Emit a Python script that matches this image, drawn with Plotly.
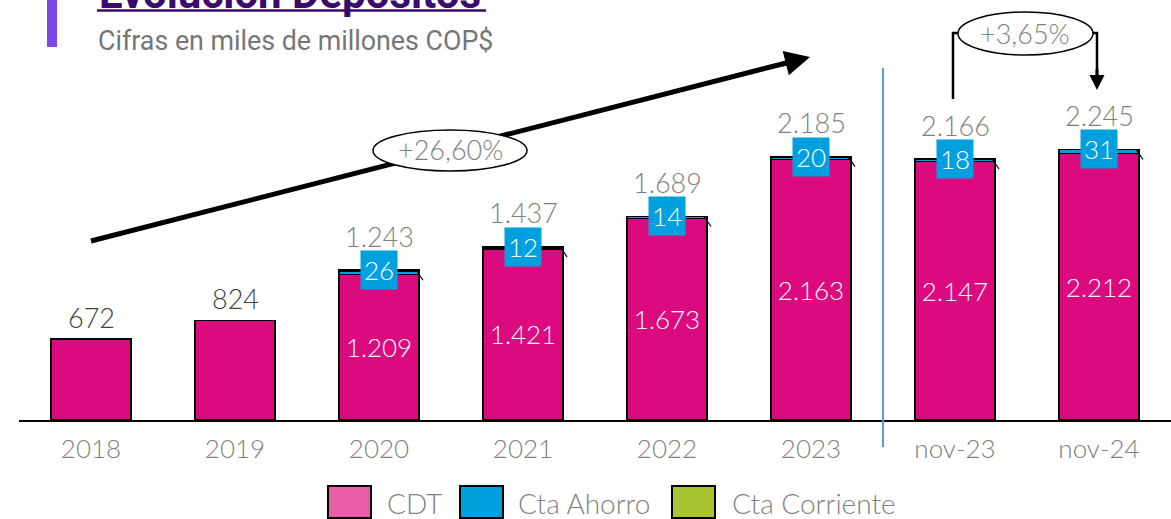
import plotly.graph_objects as go

categories = ["2018", "2019", "2020", "2021", "2022", "2023", "nov-23", "nov-24"]
cdt = [672, 824, 1209, 1421, 1673, 2163, 2147, 2212]
cta_ahorro = [None, None, 26, 12, 14, 20, 18, 31]
cta_corriente = [None, None, 8, 4, 2, 2, 1, 2]
totals = [672, 824, 1243, 1437, 1689, 2185, 2166, 2245]
growth_total = "+26,60%"
growth_nov = "+3,65%"


def fmt(v):
    return f"{v:,}".replace(",", ".")


W, H = 1171, 519
ML, MR, MT, MB = 19, 0, 0, 99
PW, PH = W - ML - MR, H - MT - MB


def px(x):
    return (x - ML) / PW


def py(y):
    return (H - MB - y) / PH


LIGHT = "Lato Light, Lato, sans-serif"
PINK = "#DC0A7F"
BLUE = "#00A0DF"
GREEN = "#A8C430"
GREY = "#7F7F7F"

fig = go.Figure()
cdt_text = [fmt(v) if a is not None else "" for v, a in zip(cdt, cta_ahorro)]
fig.add_bar(x=categories, y=cdt, name="CDT", marker=dict(color=PINK, line=dict(color="black", width=1.5)),
            text=cdt_text, textposition="inside", insidetextanchor="middle", textangle=0,
            textfont=dict(family=LIGHT, size=26, color="white"), constraintext="none")
fig.add_bar(x=categories, y=cta_ahorro, name="Cta Ahorro", marker=dict(color=BLUE, line=dict(color="black", width=1.5)))
fig.add_bar(x=categories, y=cta_corriente, name="Cta Corriente", marker=dict(color=GREEN, line=dict(color="black", width=1.5)))

annotations = []
shapes = []
for i, (t, a) in enumerate(zip(totals, cta_ahorro)):
    if a is None:
        annotations.append(dict(x=i, y=t, text=fmt(t), showarrow=False, xanchor="center", yanchor="middle", yshift=22,
                                font=dict(family=LIGHT, size=27, color="#404040")))
    else:
        annotations.append(dict(x=i, y=t, text=fmt(t), showarrow=False, xanchor="center", yanchor="middle", yshift=34,
                                font=dict(family=LIGHT, size=27, color=GREY)))
        annotations.append(dict(x=i, y=t, text=str(a), showarrow=False, xanchor="center", yanchor="middle",
                                bgcolor=BLUE, borderpad=3,
                                font=dict(family=LIGHT, size=26, color="white")))
        # small leader tick at the top-right corner
        shapes.append(dict(type="line", xref="x", yref="y", xsizemode="pixel", ysizemode="pixel",
                           xanchor=i + 0.278, yanchor=t, x0=-3, x1=4, y0=0, y1=-10,
                           line=dict(color="black", width=1.2)))

# title & subtitle
annotations.append(dict(xref="paper", yref="paper", x=px(97), y=py(20), xanchor="left", yanchor="bottom",
                        text="<b>Evolución Depósitos</b>", showarrow=False,
                        font=dict(family="Roboto", size=42, color="#3B0A6B")))
annotations.append(dict(xref="paper", yref="paper", x=px(96), y=py(41), xanchor="left", yanchor="middle",
                        text="Cifras en miles de millones COP$", showarrow=False,
                        font=dict(family="Roboto", size=26.8, color="#767676")))
# growth labels
annotations.append(dict(xref="paper", yref="paper", x=px(450), y=py(150), xanchor="center", yanchor="middle",
                        text=growth_total, showarrow=False, font=dict(family=LIGHT, size=27, color=GREY)))
annotations.append(dict(xref="paper", yref="paper", x=px(1025), y=py(33), xanchor="center", yanchor="middle",
                        text=growth_nov, showarrow=False, font=dict(family=LIGHT, size=27, color=GREY)))
# arrowheads
annotations.append(dict(xref="paper", yref="paper", x=px(810), y=py(57), ax=-29, ay=7.4, text="",
                        showarrow=True, arrowhead=2, arrowsize=1, arrowwidth=5, arrowcolor="black"))
annotations.append(dict(xref="paper", yref="paper", x=px(1097), y=py(90), ax=0, ay=-22, text="",
                        showarrow=True, arrowhead=2, arrowsize=1, arrowwidth=3, arrowcolor="black"))

# legend (manual)
legend_items = [("CDT", "#E85DA8", 328, 385), ("Cta Ahorro", BLUE, 460, 516), ("Cta Corriente", GREEN, 672, 730)]
for name, col, sx, tx in legend_items:
    shapes.append(dict(type="rect", xref="paper", yref="paper", x0=px(sx), x1=px(sx + 43), y0=py(486), y1=py(518),
                       fillcolor=col, line=dict(color="black", width=2)))
    annotations.append(dict(xref="paper", yref="paper", x=px(tx), y=py(503), xanchor="left", yanchor="middle",
                            text=name, showarrow=False, font=dict(family=LIGHT, size=28, color=GREY)))

# decorations
shapes += [
    dict(type="rect", xref="paper", yref="paper", x0=px(47), x1=px(57), y0=py(47), y1=py(-5),
         fillcolor="#7B45E8", line=dict(width=0)),
    dict(type="line", xref="paper", yref="paper", x0=px(97), x1=px(486), y0=py(10.5), y1=py(10.5),
         line=dict(color="#3B0A6B", width=2.5)),
    dict(type="line", xref="x", yref="paper", x0=5.5, x1=5.5, y0=py(68), y1=py(447),
         line=dict(color="#5B9BD5", width=2)),
    dict(type="line", xref="paper", yref="paper", x0=px(91), x1=px(790), y0=py(241), y1=py(62),
         line=dict(color="black", width=5)),
    dict(type="circle", xref="paper", yref="paper", x0=px(373), x1=px(527), y0=py(130), y1=py(171),
         fillcolor="white", line=dict(color="black", width=1.5)),
    dict(type="path", xref="paper", yref="paper",
         path=f"M {px(953)} {py(99)} L {px(953)} {py(33)} L {px(960)} {py(33)}",
         line=dict(color="black", width=2.5)),
    dict(type="path", xref="paper", yref="paper",
         path=f"M {px(1091)} {py(33)} L {px(1097)} {py(33)} L {px(1097)} {py(75)}",
         line=dict(color="black", width=2.5)),
    dict(type="circle", xref="paper", yref="paper", x0=px(958), x1=px(1093), y0=py(12), y1=py(55),
         fillcolor="white", line=dict(color="black", width=1.5)),
]

fig.update_layout(
    width=W, height=H, margin=dict(l=ML, r=MR, t=MT, b=MB),
    barmode="stack", bargap=0.444, showlegend=False,
    plot_bgcolor="white", paper_bgcolor="white",
    xaxis=dict(type="category", range=[-0.5, 7.5], showline=True, linecolor="black", linewidth=2,
               showgrid=False, ticks="", ticklabelstandoff=5,
               tickfont=dict(family=LIGHT, size=26, color=GREY)),
    yaxis=dict(range=[0, 420 / 0.1205], visible=False, showgrid=False, zeroline=False),
    annotations=annotations, shapes=shapes,
)
fig.write_html("out.html", config={"displayModeBar": False},
               post_script="document.body.style.margin='0';document.body.style.overflow='hidden';")
